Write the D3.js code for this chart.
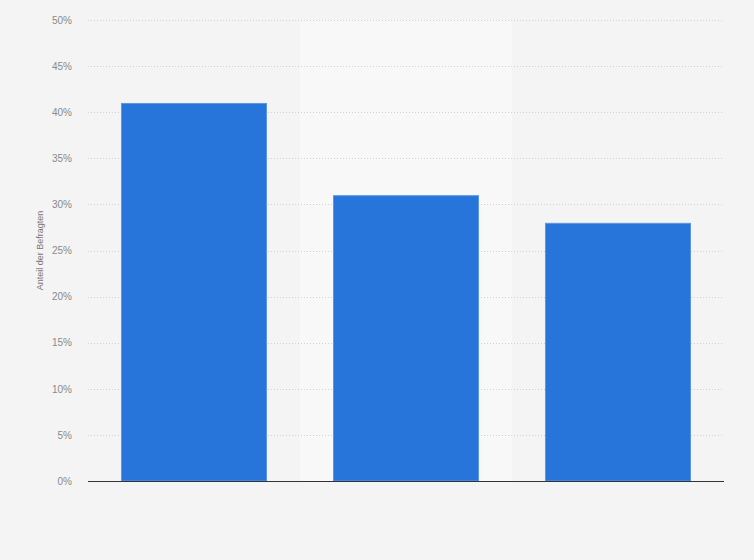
<!DOCTYPE html>
<html>
<head>
<meta charset="utf-8">
<script src="https://cdn.jsdelivr.net/npm/d3@7.9.0/dist/d3.min.js"></script>
<style>
  body { margin: 0; background: #f4f4f4; }
  svg { display: block; font-family: "Liberation Sans", Arial, sans-serif; }
</style>
</head>
<body>
<svg id="chart" width="754" height="560"></svg>
<script>
// categories have no visible labels in the chart
const categories = ['1', '2', '3'];
const values = [41, 31, 28];
const yTicks = [0, 5, 10, 15, 20, 25, 30, 35, 40, 45, 50];
const yLabel = 'Anteil der Befragten';

const svg = d3.select('#chart');
const margin = { top: 20, right: 30, bottom: 79, left: 88 };
const width = 754 - margin.left - margin.right;
const height = 560 - margin.top - margin.bottom;

svg.append('rect')
  .attr('width', 754).attr('height', 560)
  .attr('fill', '#f4f4f4');

const g = svg.append('g').attr('transform', `translate(${margin.left},${margin.top})`);

let x = d3.scaleBand().domain(categories).range([0, width]).paddingInner(0).paddingOuter(0);
let y = d3.scaleLinear().domain([0, 50]).range([height, 0]);

// alternating column bands
g.selectAll('rect.band')
  .data(categories.filter((_, i) => i % 2 === 1))
  .join('rect')
  .attr('class', 'band')
  .attr('x', d => x(d))
  .attr('y', 0)
  .attr('width', x.bandwidth())
  .attr('height', height)
  .attr('fill', '#f8f8f8');

// grid lines
g.selectAll('line.grid')
  .data(yTicks.filter(t => t > 0))
  .join('line')
  .attr('class', 'grid')
  .attr('x1', 0).attr('x2', width)
  .attr('y1', d => Math.round(y(d)) + 0.5)
  .attr('y2', d => Math.round(y(d)) + 0.5)
  .attr('stroke', '#d2d2d2')
  .attr('stroke-dasharray', '1,2');

// y axis labels
let yAxis = d3.axisLeft(y).tickValues(yTicks).tickFormat(d => d + '%').tickSize(0).tickPadding(16);
let yAxisG = g.append('g').call(yAxis);
yAxisG.select('.domain').remove();
yAxisG.selectAll('text')
  .attr('fill', '#8a8a8a')
  .attr('font-size', 10);

// bars
let barPad = 33;
g.selectAll('rect.bar')
  .data(values)
  .join('rect')
  .attr('class', 'bar')
  .attr('x', (d, i) => x(categories[i]) + barPad + 0.5)
  .attr('y', d => y(d) + 0.5)
  .attr('width', x.bandwidth() - 2 * barPad - 1)
  .attr('height', d => height - y(d) - 0.5)
  .attr('fill', '#2775db')
  .attr('stroke', '#5b96e6')
  .attr('stroke-width', 1);

// baseline
g.append('line')
  .attr('x1', 0).attr('x2', width)
  .attr('y1', height + 0.5).attr('y2', height + 0.5)
  .attr('stroke', '#333')
  .attr('stroke-width', 1.2);

// y axis title
svg.append('text')
  .attr('transform', `translate(43,${margin.top + height / 2}) rotate(-90)`)
  .attr('text-anchor', 'middle')
  .attr('font-size', 9)
  .attr('fill', '#777')
  .text(yLabel);
</script>
</body>
</html>
